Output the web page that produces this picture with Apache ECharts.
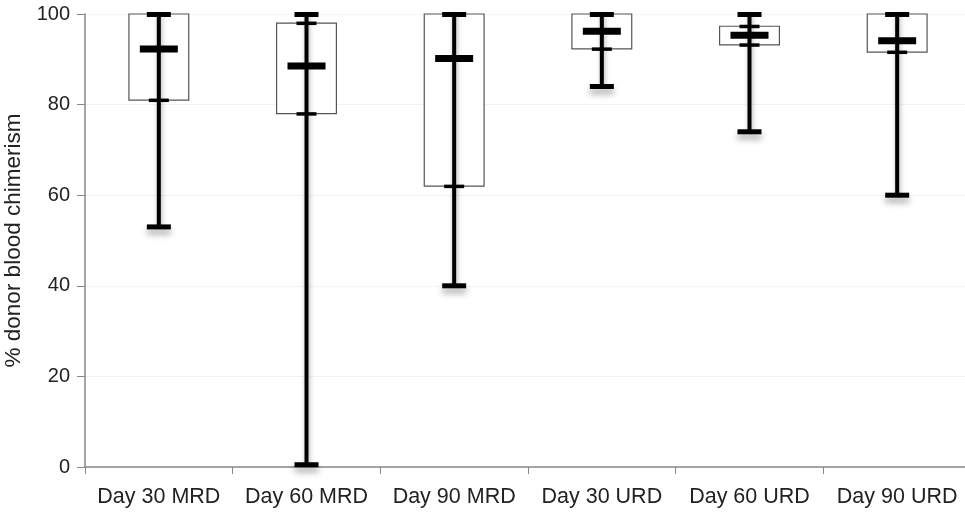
<!DOCTYPE html>
<html>
<head>
<meta charset="utf-8">
<script src="https://cdn.jsdelivr.net/npm/echarts@6/dist/echarts.min.js"></script>
<style>html,body{margin:0;padding:0;background:#fff;}#c{width:965px;height:515px;}</style>
</head>
<body>
<div id="c"></div>
<script>
const categories = ['Day 30 MRD', 'Day 60 MRD', 'Day 90 MRD', 'Day 30 URD', 'Day 60 URD', 'Day 90 URD'];
const minVals = [53, 0.5, 40, 84, 74, 60];
const q1Vals = [81, 78, 62, 92.3, 93.2, 91.6];
const medianVals = [92.3, 88.5, 90.2, 96.2, 95.3, 94.1];
const q3Vals = [100, 98, 100, 100, 97.3, 100];
const maxVals = [100, 100, 100, 100, 100, 100];
const yTicks = [0, 20, 40, 60, 80, 100];

const data = categories.map((c, i) => [i, minVals[i], q1Vals[i], medianVals[i], q3Vals[i], maxVals[i]]);

const FONT = '"Liberation Sans", Arial, sans-serif';

function renderItem(params, api) {
  const idx = api.value(0);
  const pMin = api.coord([idx, api.value(1)]);
  const pQ1 = api.coord([idx, api.value(2)]);
  const pMed = api.coord([idx, api.value(3)]);
  const pQ3 = api.coord([idx, api.value(4)]);
  const pMax = api.coord([idx, api.value(5)]);
  const band = api.size([1, 0])[0];
  const x = pMin[0];
  const boxW = band * 0.405;
  const capW = 24, tickW = 20, medW = 38;
  const children = [];
  children.push({
    type: 'rect',
    shape: { x: x - boxW / 2, y: pQ3[1], width: boxW, height: pQ1[1] - pQ3[1] },
    style: { fill: '#fff', stroke: '#555', lineWidth: 1.2 }
  });
  children.push({
    type: 'line',
    shape: { x1: x, y1: pMin[1], x2: x, y2: pMax[1] },
    style: { stroke: '#000', lineWidth: 4, shadowBlur: 5, shadowColor: 'rgba(0,0,0,0.3)', shadowOffsetX: 1 }
  });
  children.push({
    type: 'rect',
    shape: { x: x - capW / 2, y: pMin[1] - 2.5, width: capW, height: 5 },
    style: { fill: '#000', shadowBlur: 6, shadowOffsetY: 5, shadowColor: 'rgba(0,0,0,0.35)' }
  });
  children.push({
    type: 'rect',
    shape: { x: x - capW / 2, y: pMax[1] - 2, width: capW, height: 5 },
    style: { fill: '#000' }
  });
  [pQ1, pQ3].forEach(p => {
    children.push({
      type: 'rect',
      shape: { x: x - tickW / 2, y: p[1] - 1.5, width: tickW, height: 3.5 },
      style: { fill: '#000' }
    });
  });
  children.push({
    type: 'rect',
    shape: { x: x - medW / 2, y: pMed[1] - 3.5, width: medW, height: 7 },
    style: { fill: '#000' }
  });
  return { type: 'group', children };
}

const chart = echarts.init(document.getElementById('c'), null, { renderer: 'canvas' });
chart.setOption({
  animation: false,
  backgroundColor: '#fff',
  grid: { left: 85, top: 14, width: 886, bottom: 48, containLabel: false, outerBoundsMode: 'none' },
  xAxis: {
    type: 'category',
    data: categories,
    boundaryGap: true,
    axisLine: { lineStyle: { color: '#888', width: 1.5 } },
    axisTick: { show: true, length: 7, lineStyle: { color: '#888' } },
    axisLabel: { color: '#222', fontSize: 21.5, fontFamily: FONT, margin: 19, interval: 0, hideOverlap: false },
    splitLine: { show: false }
  },
  yAxis: {
    type: 'value',
    min: yTicks[0],
    max: yTicks[yTicks.length - 1],
    interval: 20,
    name: '% donor blood chimerism',
    nameLocation: 'middle',
    nameGap: 54,
    nameTextStyle: { color: '#222', fontSize: 22.5, fontFamily: FONT },
    axisLine: { show: true, lineStyle: { color: '#888', width: 1.5 } },
    axisTick: { show: true, length: 8, lineStyle: { color: '#888' } },
    axisLabel: { color: '#222', fontSize: 20, fontFamily: FONT, margin: 15 },
    splitLine: { show: true, lineStyle: { color: '#f3f3f3', width: 1 } }
  },
  series: [{
    type: 'custom',
    renderItem: renderItem,
    encode: { x: 0, y: [1, 2, 3, 4, 5] },
    data: data,
    clip: false
  }]
});
</script>
</body>
</html>
